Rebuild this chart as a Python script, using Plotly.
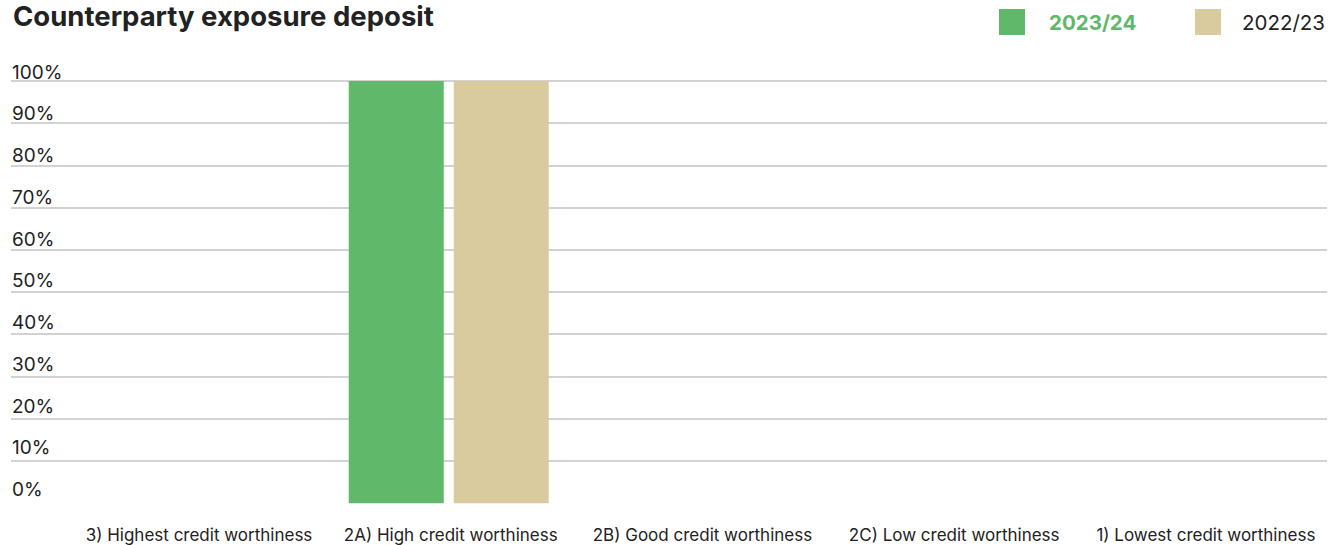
import plotly.graph_objects as go

categories = ["3) Highest credit worthiness", "2A) High credit worthiness",
              "2B) Good credit worthiness", "2C) Low credit worthiness",
              "1) Lowest credit worthiness"]
series_names = ["2023/24", "2022/23"]
values_2023_24 = [0, 100, 0, 0, 0]
values_2022_23 = [0, 100, 0, 0, 0]
y_ticks = [0, 10, 20, 30, 40, 50, 60, 70, 80, 90, 100]
y_tick_labels = [f"{v}%" for v in y_ticks]

GREEN = "#60b86a"
TAN = "#d9cb9d"
TEXT = "#222222"
FONT = "Inter"

W, H = 1339, 545
ML, MR, MT, MB = 11, 12, 79, 41
PW, PH = W - ML - MR, H - MT - MB

def px_x(x):
    return (x - ML) / PW

def px_y(y):
    return (H - MB - y) / PH

fig = go.Figure()
fig.add_trace(go.Bar(x=list(range(len(categories))), y=values_2023_24, name=series_names[0],
                     marker=dict(color=GREEN, line=dict(width=0)), showlegend=False))
fig.add_trace(go.Bar(x=list(range(len(categories))), y=values_2022_23, name=series_names[1],
                     marker=dict(color=TAN, line=dict(width=0)), showlegend=False))

fig.update_layout(
    width=W, height=H,
    margin=dict(l=ML, r=MR, t=MT, b=MB, autoexpand=False),
    paper_bgcolor="white", plot_bgcolor="white",
    barmode="group", bargap=0.166, bargroupgap=0.095,
    font=dict(family=FONT, color=TEXT),
    xaxis=dict(
        range=[-0.739, 4.489], automargin=False,
        tickmode="array", tickvals=list(range(len(categories))), ticktext=categories,
        showgrid=False, zeroline=False, showline=False,
        tickfont=dict(size=17, color=TEXT, family=FONT),
        ticks="", ticklabelstandoff=19, ticklabelshift=2,
    ),
    yaxis=dict(
        range=[-0.2, 100.5], automargin=False,
        tickmode="array", tickvals=y_ticks,
        showgrid=True, gridcolor="#d2d2d2", gridwidth=1.5,
        zeroline=False, showline=False, ticks="", showticklabels=False,
    ),
)

for v, lab in zip(y_ticks, y_tick_labels):
    fig.add_annotation(text=lab, xref="paper", yref="y", x=px_x(10), y=v,
                       xanchor="left", yanchor="middle", showarrow=False,
                       yshift=9 + 4.5 * (100 - v) / 100,
                       font=dict(size=19, color=TEXT, family=FONT))

fig.add_annotation(text="<b>Counterparty exposure deposit</b>", xref="paper", yref="paper",
                   x=px_x(11), y=px_y(16), xanchor="left", yanchor="middle", showarrow=False,
                   font=dict(size=27.5, color=TEXT, family=FONT))

# custom legend
legend_items = [(series_names[0], GREEN, True, 999, 1048), (series_names[1], TAN, False, 1195, 1241)]
for name, color, bold, sq_x, tx in legend_items:
    fig.add_shape(type="rect", xref="paper", yref="paper",
                  x0=px_x(sq_x), x1=px_x(sq_x + 26),
                  y0=px_y(35), y1=px_y(9),
                  fillcolor=color, line=dict(width=0))
    fig.add_annotation(text=f"<b>{name}</b>" if bold else name, xref="paper", yref="paper",
                       x=px_x(tx - 1), y=px_y(23),
                       xanchor="left", yanchor="middle", showarrow=False,
                       font=dict(size=20.5, color=color if bold else TEXT, family=FONT))

fig.write_html("out.html", config={"displayModeBar": False},
               post_script="document.body.style.margin='0';document.body.style.padding='0';")
